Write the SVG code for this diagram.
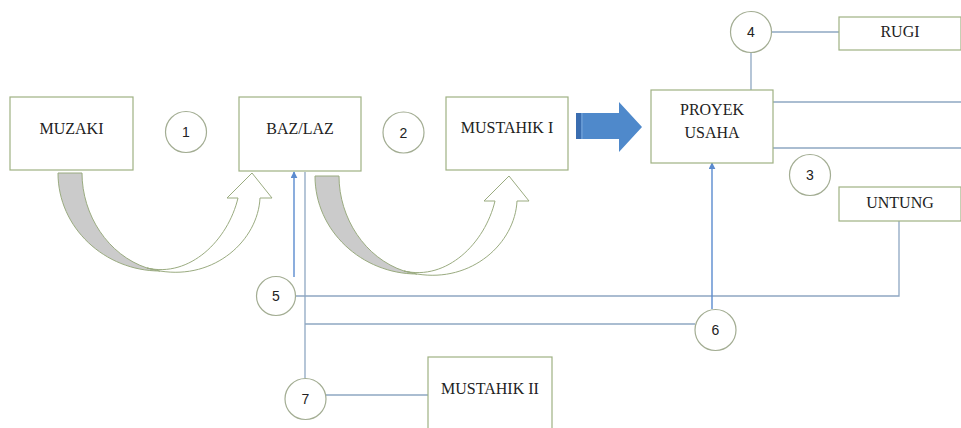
<svg xmlns="http://www.w3.org/2000/svg" width="961" height="428" viewBox="0 0 961 428">
<style>
.box{fill:#fff;stroke:#9fb183;stroke-width:1.2}
.lbl{font-family:"Liberation Serif","Times New Roman",serif;font-size:16px;fill:#222;text-anchor:middle}
.circ{fill:#fff;stroke:#a3ad93;stroke-width:1.2}
.num{font-family:"Liberation Sans",Arial,sans-serif;font-size:14px;fill:#222;text-anchor:middle}
.ln{fill:none;stroke:#8ea7c2;stroke-width:1.3}
.bl{fill:none;stroke:#5b8bcf;stroke-width:1.4}
.tail{fill:#cbcbcb;stroke:#9aab80;stroke-width:1}
.front{fill:#fff;stroke:#9aab80;stroke-width:1}
</style>
<defs>
<marker id="ah" viewBox="0 0 10 10" refX="9" refY="5" markerWidth="7" markerHeight="7" orient="auto" markerUnits="userSpaceOnUse">
<path d="M0,0 L10,5 L0,10 Z" fill="#5b8bcf"/>
</marker>
<g id="curved">
<path class="tail" d="M58,173 C58,228 105,271 160,271 L147,268 C108,255 82,215 82,173 Z"/>
<path class="front" d="M147,268 C190,278 228,240 238,198 L227,198 L252,173 L272,198 L260,198 C258,240 215,280 160,271 Z"/>
</g>
</defs>
<rect width="961" height="428" fill="#fff"/>
<g id="connectors">
<line class="ln" x1="751" y1="53" x2="751" y2="90"/>
<line class="ln" x1="772" y1="32" x2="839" y2="32"/>
<line class="ln" x1="773" y1="102" x2="961" y2="102"/>
<line class="ln" x1="773" y1="148" x2="961" y2="148"/>
<polyline class="ln" points="899,221 899,296 296,296"/>
<line class="bl" x1="294" y1="277" x2="294" y2="172" marker-end="url(#ah)"/>
<line class="ln" x1="305" y1="172" x2="305" y2="378"/>
<line class="ln" x1="305" y1="324" x2="695" y2="324"/>
<line class="bl" x1="712" y1="309" x2="712" y2="163" marker-end="url(#ah)"/>
<line class="ln" x1="326" y1="395" x2="428" y2="395"/>
<use href="#curved"/>
<use href="#curved" transform="translate(257,3)"/>
<g id="bigarrow">
<polygon points="576,113 619,113 619,102 642,127 619,152 619,139 576,139" fill="#4f89cb"/>
<rect x="576" y="113" width="5" height="26" fill="#3a6db0"/>
<line x1="582" y1="113" x2="582" y2="139" stroke="#7aa6da" stroke-width="1"/>
</g>
</g>
<g id="muzaki"><rect class="box" x="10" y="97" width="123" height="73"/><text class="lbl" x="71.5" y="134">MUZAKI</text></g>
<g id="bazlaz"><rect class="box" x="239" y="97" width="122" height="74"/><text class="lbl" x="300" y="134">BAZ/LAZ</text></g>
<g id="mustahik1"><rect class="box" x="446" y="97" width="122" height="73"/><text class="lbl" x="507" y="133">MUSTAHIK I</text></g>
<g id="proyek"><rect class="box" x="651" y="90" width="122" height="73"/><text class="lbl" x="712" y="115">PROYEK</text><text class="lbl" x="712" y="138">USAHA</text></g>
<g id="rugi"><rect class="box" x="839" y="17" width="122" height="33"/><text class="lbl" x="900" y="37">RUGI</text></g>
<g id="untung"><rect class="box" x="839" y="187" width="122" height="34"/><text class="lbl" x="900" y="208">UNTUNG</text></g>
<g id="mustahik2"><rect class="box" x="428" y="357" width="124" height="80"/><text class="lbl" x="490" y="394">MUSTAHIK II</text></g>
<g id="c1"><circle class="circ" cx="186" cy="132" r="20.5"/><text class="num" x="186" y="137">1</text></g>
<g id="c2"><circle class="circ" cx="403.5" cy="132.5" r="20.5"/><text class="num" x="403.5" y="137.5">2</text></g>
<g id="c3"><circle class="circ" cx="810" cy="175" r="20.5"/><text class="num" x="810" y="180">3</text></g>
<g id="c4"><circle class="circ" cx="751" cy="32" r="20.5"/><text class="num" x="751" y="37">4</text></g>
<g id="c5"><circle class="circ" cx="276" cy="296" r="19.5"/><text class="num" x="276" y="301">5</text></g>
<g id="c6"><circle class="circ" cx="715.5" cy="330" r="20.5"/><text class="num" x="715.5" y="335">6</text></g>
<g id="c7"><circle class="circ" cx="305.5" cy="399" r="20.5"/><text class="num" x="305.5" y="404">7</text></g>
</svg>
